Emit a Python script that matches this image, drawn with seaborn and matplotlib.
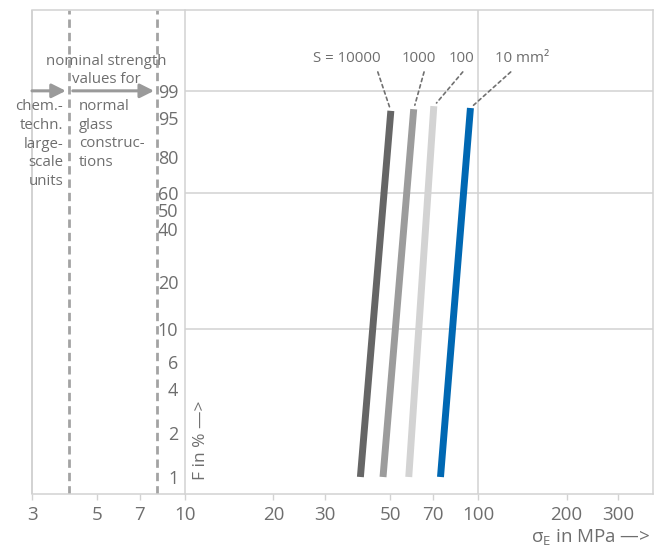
import numpy as np
import pandas as pd
import matplotlib
matplotlib.use("Agg")
import matplotlib.pyplot as plt
import matplotlib.transforms as mtransforms
from matplotlib.ticker import NullLocator
import seaborn as sns

# ---------------- data ----------------
areas = ["S = 10000", "1000", "100", "10 mm²"]
sigma_low = [39.6, 47.3, 57.9, 74.3]      # MPa at lower end of line
sigma_high = [50.3, 60.2, 70.5, 94.0]     # MPa at upper end of line
f_low = [1.0, 1.0, 1.0, 1.0]              # F in %
f_high = [96.5, 96.8, 97.3, 97.0]         # F in %
line_colors = ["#666666", "#9c9c9c", "#d3d3d3", "#0068b3"]

x_ticks = [3, 5, 7, 10, 20, 30, 50, 70, 100, 200, 300]
y_ticks = [1, 2, 4, 6, 10, 20, 40, 50, 60, 80, 95, 99]
grid_x = [100]
grid_f = [10, 60, 99]
limit_lines = [4, 8]

# ---------------- style ----------------
sns.set_theme(style="white")
plt.rcParams["font.family"] = ["Open Sans", "DejaVu Sans"]
plt.rcParams["mathtext.fontset"] = "custom"
plt.rcParams["mathtext.rm"] = "Open Sans"
plt.rcParams["lines.solid_capstyle"] = "butt"

TXT = "#6e6e6e"
SPINE = "#d2d2d2"


def fwd(p):
    p = np.clip(np.asarray(p, dtype=float) / 100.0, 1e-12, 1 - 1e-15)
    return np.log(-np.log1p(-p))


def inv(w):
    return 100.0 * (-np.expm1(-np.exp(np.asarray(w, dtype=float))))


fig = plt.figure(figsize=(6.62, 5.49), dpi=100)
ax = fig.add_axes([32 / 662, 55 / 549, 620.5 / 662, 484 / 549])
ax.set_xscale("log")
ax.set_yscale("function", functions=(fwd, inv))

# lines via seaborn
df = pd.DataFrame({
    "area": np.repeat(areas, 2),
    "sigma": np.ravel(np.column_stack([sigma_low, sigma_high])),
    "F": np.ravel(np.column_stack([f_low, f_high])),
})
sns.lineplot(data=df, x="sigma", y="F", hue="area", hue_order=areas,
             palette=line_colors, lw=5, legend=False, estimator=None,
             sort=False, ax=ax, zorder=5)

xmax = 393
ax.set_xlim(3, xmax)
ax.set_ylim(inv(-4.87), inv(2.81))

# axes / ticks
ax.set_xticks(x_ticks, labels=[str(v) for v in x_ticks])
ax.xaxis.set_minor_locator(NullLocator())
ax.set_yticks(y_ticks, labels=[str(v) for v in y_ticks])
ax.yaxis.set_minor_locator(NullLocator())
ax.tick_params(axis="x", which="major", bottom=True, length=4, width=1,
               color=SPINE, labelsize=13.5, labelcolor=TXT, pad=5)
ax.tick_params(axis="y", which="major", left=True, length=0,
               labelsize=13, labelcolor=TXT, pad=5)
ax.spines["left"].set_position(("data", 10))
for s in ax.spines.values():
    s.set_color(SPINE)
    s.set_linewidth(1.1)
ax.axvline(3, color=SPINE, lw=1.4, clip_on=False)
ax.set_xlabel("")
ax.set_ylabel("")

# grid lines (only right of 10 MPa)
ax.hlines(grid_f, 10, xmax, colors=SPINE, lw=1.1, zorder=1)
for gx in grid_x:
    ax.axvline(gx, color=SPINE, lw=1.1, zorder=1)

# dashed limit lines
for lx in limit_lines:
    ax.axvline(lx, color="#a3a3a3", lw=2.0, ls=(0, (3, 1.8)), zorder=2)

blend = mtransforms.blended_transform_factory(ax.transData, ax.transAxes)

# left side annotation arrows
arrow_kw = dict(arrowstyle="-|>,head_length=0.7,head_width=0.35",
                color="#9a9a9a", lw=2.2)
ax.annotate("", xy=(limit_lines[0], 99), xytext=(3, 99),
            arrowprops=dict(**arrow_kw, shrinkA=0, shrinkB=2))
ax.annotate("", xy=(limit_lines[1], 99), xytext=(limit_lines[0], 99),
            arrowprops=dict(**arrow_kw, shrinkA=3, shrinkB=2))

ax.text(5.37, 0.8864, "nominal strength", transform=blend,
        ha="center", va="baseline", fontsize=10.8, color=TXT)
ax.text(5.37, 0.8486, "values for", transform=blend,
        ha="center", va="baseline", fontsize=10.8, color=TXT)
ax.text(3.83, 0.723, "chem.-\ntechn.\nlarge-\nscale\nunits", transform=blend,
        ha="right", va="center", multialignment="right", fontsize=10.8,
        color=TXT, linespacing=1.33)
ax.text(4.34, 0.743, "normal\nglass\nconstruc-\ntions", transform=blend,
        ha="left", va="center", fontsize=10.8, color=TXT, linespacing=1.33)

# area labels with dashed leaders
label_x = [35.6, 62.5, 87.9, 140.8]
leader_x = [45.4, 65.3, 88.5, 129.0]
for i, lab in enumerate(areas):
    ax.text(label_x[i], 0.9007, lab, transform=blend, ha="center",
            va="center", fontsize=10.8, color=TXT)
    ax.annotate("", xy=(sigma_high[i], f_high[i]),
                xytext=(leader_x[i], 0.872), textcoords=blend,
                arrowprops=dict(arrowstyle="-", color="#707070", lw=1.2,
                                linestyle=(0, (2, 2)), shrinkA=0, shrinkB=3))

# axis titles
ax.text(11.3, 0.029, "F in % —>", transform=blend, rotation=90,
        ha="center", va="bottom", fontsize=12.5, color=TXT)
fig.text(650 / 662, 1 - 538 / 549, "σ$_\\mathregular{E}$ in MPa —>",
         ha="right", va="center", fontsize=13.5, color=TXT)

fig.savefig("out.png", dpi=100)
